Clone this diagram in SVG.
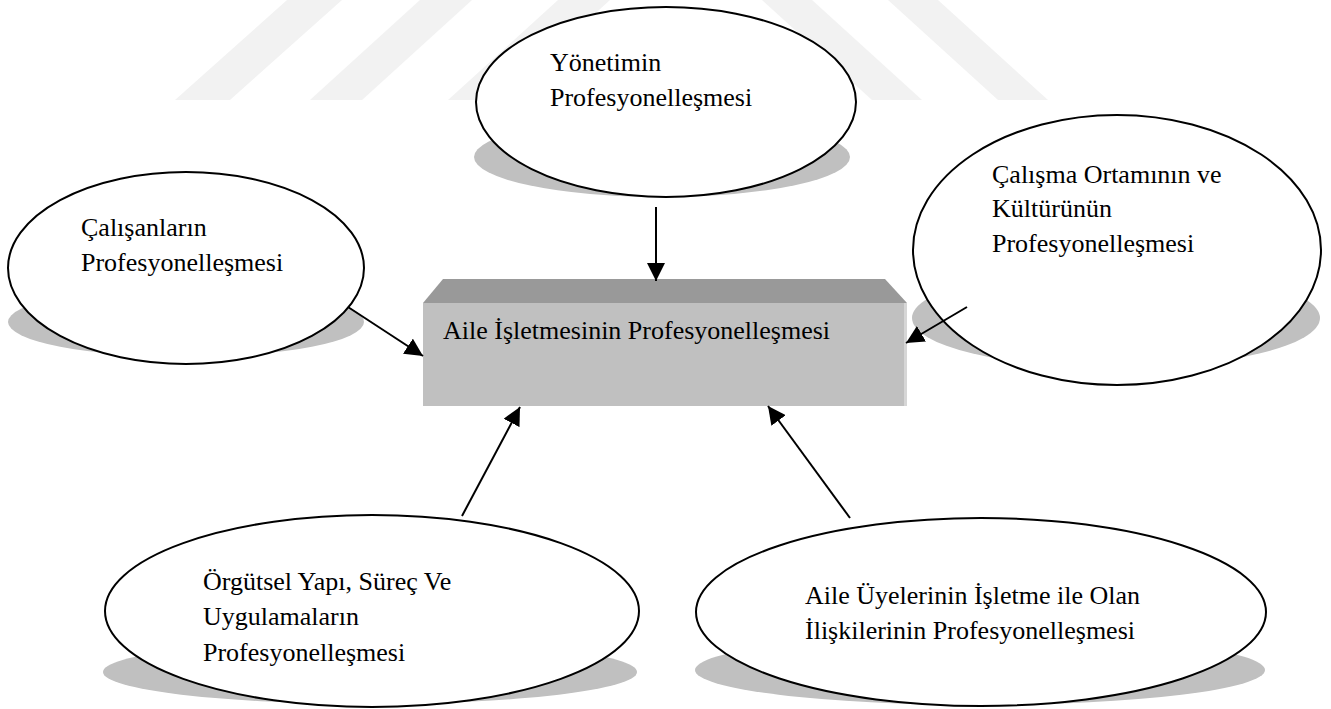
<svg xmlns="http://www.w3.org/2000/svg" width="1331" height="709" viewBox="0 0 1331 709">
  <style>
    .mark { fill: #f2f2f2; }
    .shadow { fill: #c0c0c0; }
    .oval { fill: #ffffff; stroke: #000000; stroke-width: 2; }
    .label { font-family: "Liberation Serif", "Times New Roman", serif; font-size: 26px; fill: #000000; }
    .conn { stroke: #000000; stroke-width: 2; fill: none; marker-end: url(#arrow); }
  </style>
  <defs>
    <marker id="arrow" markerUnits="userSpaceOnUse" markerWidth="18" markerHeight="18" viewBox="0 0 16 16" refX="16" refY="8" orient="auto">
      <path d="M0,0 L16,8 L0,16 Z" fill="#000000"/>
    </marker>
  </defs>

  <rect width="1331" height="709" fill="#ffffff"/>

  <!-- background stripes -->
  <g id="background-stripes">
    <polygon class="mark" points="175,100 230,100 342,0 287,0"/>
    <polygon class="mark" points="310,100 362,100 472,0 420,0"/>
    <polygon class="mark" points="448,100 500,100 610,0 558,0"/>
    <polygon class="mark" points="762,0 812,0 922,100 872,100"/>
    <polygon class="mark" points="888,0 938,0 1048,100 998,100"/>
  </g>

  <!-- outer ellipses with their drop shadows -->
  <g id="node-yonetim">
    <ellipse class="shadow" cx="662" cy="157" rx="188" ry="40"/>
    <ellipse class="oval" cx="666" cy="102" rx="190" ry="95"/>
    <text class="label" x="550" y="71">Yönetimin</text>
    <text class="label" x="550" y="106">Profesyonelleşmesi</text>
  </g>

  <g id="node-calisanlar">
    <ellipse class="shadow" cx="186" cy="322" rx="178" ry="35"/>
    <ellipse class="oval" cx="186" cy="268" rx="178" ry="96"/>
    <text class="label" x="81" y="236">Çalışanların</text>
    <text class="label" x="81" y="271">Profesyonelleşmesi</text>
  </g>

  <g id="node-calisma-ortami">
    <ellipse class="shadow" cx="1116" cy="318" rx="204" ry="50"/>
    <ellipse class="oval" cx="1117" cy="250" rx="204" ry="135"/>
    <text class="label" x="992" y="183">Çalışma Ortamının ve</text>
    <text class="label" x="992" y="217">Kültürünün</text>
    <text class="label" x="992" y="252">Profesyonelleşmesi</text>
  </g>

  <g id="node-orgutsel">
    <ellipse class="shadow" cx="370" cy="672" rx="267" ry="32"/>
    <ellipse class="oval" cx="372" cy="611" rx="267" ry="96"/>
    <text class="label" x="203" y="590">Örgütsel Yapı, Süreç Ve</text>
    <text class="label" x="203" y="625">Uygulamaların</text>
    <text class="label" x="203" y="661">Profesyonelleşmesi</text>
  </g>

  <g id="node-aile-uyeleri">
    <ellipse class="shadow" cx="980" cy="670" rx="285" ry="35"/>
    <ellipse class="oval" cx="981" cy="612" rx="285" ry="94"/>
    <text class="label" x="805" y="604">Aile Üyelerinin İşletme ile Olan</text>
    <text class="label" x="805" y="639">İlişkilerinin Profesyonelleşmesi</text>
  </g>

  <!-- central block with bevelled top face -->
  <g id="node-aile-isletmesi">
    <polygon points="443,279 885,279 907,303 423,303" fill="#999999"/>
    <rect x="423" y="303" width="484" height="103" fill="#c0c0c0"/>
    <rect x="904" y="303" width="3" height="103" fill="#d6d6d6"/>
    <text class="label" x="443" y="339">Aile İşletmesinin Profesyonelleşmesi</text>
  </g>

  <!-- connectors pointing into the central block -->
  <g id="connectors">
    <line class="conn" x1="656" y1="207" x2="656" y2="281"/>
    <line class="conn" x1="348" y1="307" x2="423" y2="356"/>
    <line class="conn" x1="967" y1="307" x2="906" y2="343"/>
    <line class="conn" x1="462" y1="516" x2="520" y2="407"/>
    <line class="conn" x1="850" y1="518" x2="768" y2="406"/>
  </g>
</svg>
